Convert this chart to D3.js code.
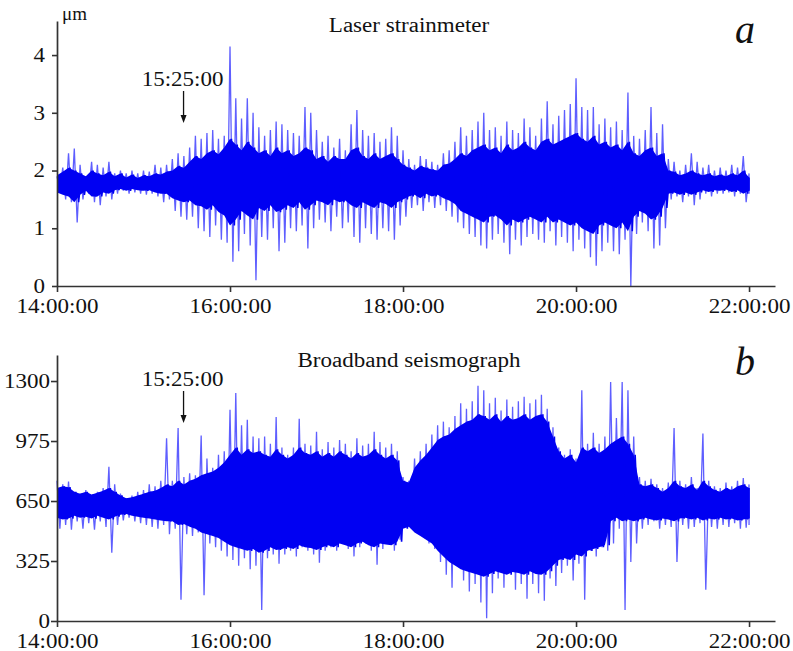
<!DOCTYPE html>
<html>
<head>
<meta charset="utf-8">
<script src="https://cdn.jsdelivr.net/npm/d3@7"></script>
<style>
  body { margin: 0; background: #fff; }
  svg text { font-family: "Liberation Serif", "Times New Roman", serif; fill: #111; }
</style>
</head>
<body>
<div id="chart"></div>
<script>
// time axis (shared by both panels)
var timeTickLabels = ["14:00:00", "16:00:00", "18:00:00", "20:00:00", "22:00:00"];
var eventLabel = "15:25:00";
var sampleStep = 4; // minutes between read-off samples, starting 14:00

// panel a: laser strainmeter, µm
// extreme upper / lower excursion in each 4 min window
var strainHigh = [
  1.90, 2.05, 2.30, 2.38, 2.10, 1.90, 2.15, 2.10, 2.05, 2.15,
  1.95, 2.00, 1.95, 2.00, 1.95, 2.00, 1.98, 2.10, 2.05, 2.10,
  2.20, 2.30, 2.25, 2.40, 2.60, 2.55, 2.65, 2.70, 2.55, 2.60,
  4.15, 3.25, 2.90, 3.25, 3.00, 2.75, 2.60, 2.70, 2.85, 2.80,
  2.70, 2.65, 2.60, 3.10, 3.00, 2.70, 2.50, 2.60, 2.40, 2.55,
  2.35, 2.80, 3.05, 2.70, 2.60, 2.65, 2.50, 2.55, 2.75, 2.60,
  2.35, 2.20, 2.10, 2.25, 2.20, 2.15, 2.10, 2.30, 2.35, 2.50,
  2.75, 2.60, 2.70, 2.85, 3.00, 2.70, 2.75, 2.60, 2.85, 2.70,
  2.65, 2.90, 2.75, 2.60, 2.90, 3.20, 2.80, 2.95, 3.05, 3.15,
  3.60, 3.10, 3.05, 3.10, 2.80, 2.90, 2.75, 2.85, 2.70, 3.35,
  2.60, 2.55, 2.70, 3.10, 2.65, 2.80, 2.20, 2.15, 2.00, 2.10,
  2.30, 2.15, 2.05, 2.10, 2.00, 2.05, 2.00, 2.10, 2.05, 2.25,
  1.95
];
var strainLow = [
  1.65, 1.50, 1.45, 1.10, 1.50, 1.60, 1.45, 1.40, 1.55, 1.50,
  1.60, 1.65, 1.60, 1.62, 1.60, 1.58, 1.60, 1.55, 1.45, 1.50,
  1.30, 1.20, 1.15, 1.20, 1.00, 0.95, 0.85, 1.05, 0.80, 0.75,
  0.42, 0.60, 0.90, 0.70, 0.10, 0.85, 0.80, 1.00, 0.60, 0.75,
  1.00, 0.95, 1.05, 0.65, 1.00, 1.15, 1.10, 0.95, 1.20, 1.00,
  1.10, 0.85, 0.75, 1.00, 0.90, 0.80, 1.00, 0.95, 0.80, 1.05,
  1.20, 1.35, 1.40, 1.30, 1.45, 1.35, 1.40, 1.30, 1.20, 1.10,
  1.00, 0.90, 0.85, 0.70, 0.65, 0.80, 0.90, 0.75, 0.55, 0.80,
  0.70, 0.85, 0.90, 0.80, 0.75, 0.95, 0.70, 0.85, 0.75, 0.60,
  0.80, 0.65, 0.50, 0.35, 0.60, 0.75, 0.60, 0.55, 0.80, 0.00,
  0.90, 1.10, 0.95, 0.65, 0.70, 1.00, 1.50, 1.55, 1.45, 1.55,
  1.40, 1.50, 1.60, 1.55, 1.60, 1.60, 1.62, 1.55, 1.60, 1.45,
  1.60
];
// edges of the dense (solid) part of the trace, same windows
var strainInnerHigh = [
  1.92, 1.98, 2.05, 2.00, 1.95, 1.90, 2.00, 1.95, 1.92, 1.98,
  1.90, 1.95, 1.88, 1.93, 1.87, 1.92, 1.90, 1.95, 1.93, 1.98,
  2.00, 2.08, 2.05, 2.15, 2.25, 2.20, 2.30, 2.35, 2.28, 2.40,
  2.55, 2.45, 2.35, 2.50, 2.40, 2.30, 2.35, 2.25, 2.40, 2.30,
  2.35, 2.25, 2.30, 2.40, 2.35, 2.20, 2.25, 2.15, 2.25, 2.20,
  2.20, 2.35, 2.40, 2.25, 2.20, 2.30, 2.20, 2.25, 2.30, 2.20,
  2.10, 2.05, 2.00, 2.08, 2.05, 2.02, 2.00, 2.10, 2.12, 2.20,
  2.30, 2.25, 2.35, 2.40, 2.45, 2.35, 2.40, 2.30, 2.45, 2.35,
  2.40, 2.50, 2.40, 2.35, 2.50, 2.55, 2.45, 2.50, 2.55, 2.60,
  2.65, 2.55, 2.50, 2.60, 2.45, 2.50, 2.40, 2.45, 2.35, 2.50,
  2.30, 2.25, 2.35, 2.40, 2.25, 2.30, 2.00, 1.98, 1.92, 1.95,
  2.00, 1.95, 1.92, 1.95, 1.90, 1.93, 1.90, 1.95, 1.92, 2.00,
  1.88
];
var strainInnerLow = [
  1.62, 1.58, 1.55, 1.45, 1.58, 1.65, 1.55, 1.55, 1.62, 1.60,
  1.66, 1.68, 1.65, 1.68, 1.66, 1.65, 1.66, 1.62, 1.60, 1.60,
  1.52, 1.48, 1.45, 1.48, 1.40, 1.38, 1.32, 1.40, 1.28, 1.22,
  1.05, 1.15, 1.30, 1.22, 1.15, 1.35, 1.30, 1.40, 1.28, 1.32,
  1.40, 1.35, 1.45, 1.32, 1.40, 1.48, 1.45, 1.40, 1.50, 1.45,
  1.48, 1.40, 1.35, 1.45, 1.40, 1.35, 1.45, 1.42, 1.35, 1.45,
  1.50, 1.55, 1.58, 1.52, 1.60, 1.55, 1.58, 1.52, 1.48, 1.42,
  1.30, 1.25, 1.20, 1.15, 1.10, 1.20, 1.22, 1.15, 1.05, 1.15,
  1.10, 1.15, 1.20, 1.15, 1.10, 1.20, 1.10, 1.15, 1.10, 1.05,
  1.10, 1.00, 0.95, 0.90, 1.05, 1.10, 1.05, 1.00, 1.10, 0.95,
  1.20, 1.30, 1.25, 1.15, 1.20, 1.35, 1.60, 1.62, 1.58, 1.62,
  1.58, 1.62, 1.66, 1.63, 1.66, 1.65, 1.67, 1.63, 1.66, 1.60,
  1.65
];
var strainTicks = [0, 1, 2, 3, 4];

// panel b: broadband seismograph, counts
var seismoHigh = [
  760, 740, 755, 700, 690, 710, 680, 700, 720, 835,
  740, 690, 665, 680, 700, 710, 740, 730, 760, 990,
  760, 1045, 780, 800, 790, 1005, 880, 830, 900, 920,
  1145, 1235, 1060, 1090, 1000, 990, 1000, 960, 1105, 940,
  900, 940, 1095, 960, 950, 1025, 930, 970, 940, 980,
  960, 920, 990, 950, 960, 1025, 970, 940, 960, 920,
  780, 760, 880, 920, 960, 1010, 1060, 1080, 1050, 1110,
  1180, 1150, 1190, 1275, 1250, 1180, 1210, 1140, 1200, 1160,
  1190, 1215, 1180, 1200, 1225, 1150, 1050, 940, 900, 930,
  880, 1250, 960, 1020, 960, 1000, 1295, 1100, 1295, 1250,
  1000, 780, 760, 770, 740, 720, 750, 1045, 760, 740,
  780, 720, 1015, 760, 730, 720, 750, 730, 760, 775,
  740
];
var seismoLow = [
  500, 520, 495, 540, 500, 530, 495, 540, 510, 370,
  520, 545, 560, 540, 530, 520, 510, 500, 520, 470,
  500, 115, 470, 460, 480, 140, 420, 400, 380, 350,
  330, 300, 340, 280, 300, 60, 340, 360, 310, 360,
  380, 350, 400, 380, 360, 315, 380, 400, 380, 420,
  390, 350, 400, 420, 380, 305, 390, 420, 380, 440,
  520, 530, 500, 460, 420, 390, 320, 250, 180, 300,
  220, 160, 200, 100, 15, 150, 230, 180, 270, 170,
  200, 120, 200, 150, 110, 230, 190, 260, 300, 220,
  310, 115, 380, 350, 400, 380, 420, 500, 60, 320,
  420, 500, 520, 540, 500, 520, 510, 320, 520, 500,
  510, 530, 170, 510, 500, 520, 510, 530, 500, 505,
  520
];
var seismoInnerHigh = [
  720, 730, 725, 700, 690, 700, 685, 695, 705, 720,
  700, 680, 665, 670, 680, 690, 700, 705, 720, 740,
  730, 760, 740, 760, 770, 790, 800, 810, 830, 860,
  900, 940, 900, 930, 910, 920, 900, 890, 930, 900,
  880, 900, 940, 910, 900, 920, 890, 910, 890, 920,
  900, 880, 910, 890, 900, 930, 900, 880, 900, 870,
  760, 750, 830, 870, 900, 940, 980, 1000, 1010, 1040,
  1060, 1080, 1090, 1120, 1110, 1090, 1120, 1080, 1110, 1090,
  1100, 1120, 1090, 1110, 1120, 1080, 1000, 920, 880, 900,
  860, 940, 920, 940, 910, 930, 960, 980, 1000, 960,
  900, 740, 730, 740, 720, 700, 720, 760, 730, 720,
  740, 710, 760, 730, 710, 700, 720, 710, 730, 740,
  720
];
var seismoInnerLow = [
  560, 550, 555, 570, 560, 565, 555, 570, 560, 550,
  565, 575, 580, 570, 565, 560, 555, 550, 545, 540,
  540, 520, 525, 510, 500, 480, 470, 460, 450, 430,
  410, 400, 390, 380, 390, 370, 380, 400, 385, 390,
  400, 390, 410, 400, 395, 385, 400, 410, 400, 420,
  410, 400, 420, 430, 410, 400, 420, 415, 410, 430,
  500, 510, 480, 460, 440, 420, 380, 350, 320, 300,
  280, 270, 260, 250, 240, 255, 270, 260, 250, 265,
  260, 250, 270, 255, 250, 270, 300, 330, 340, 330,
  360, 350, 380, 390, 400, 410, 540, 560, 540, 550,
  540, 550, 560, 550, 545, 555, 550, 540, 555, 560,
  550, 560, 545, 555, 550, 560, 550, 555, 545, 550,
  555
];
var seismoTicks = [0, 325, 650, 975, 1300];

var width = 793, height = 651;
var stretch = 1.15; // the source figure's lettering is a bit wide

var svg = d3.select("#chart").append("svg")
  .attr("width", width)
  .attr("height", height);

// "HH:MM:SS" -> minutes after 14:00
function minutesOf(s) {
  var p = s.split(":");
  return (+p[0] - 14) * 60 + (+p[1]) + (+p[2]) / 60;
}

function widen(sel) {
  sel.attr("textLength", function() { return this.getComputedTextLength() * stretch; })
    .attr("lengthAdjust", "spacingAndGlyphs");
}

var panels = [
  { title: "Laser strainmeter", letter: "a", high: strainHigh, low: strainLow,
    innerHigh: strainInnerHigh, innerLow: strainInnerLow,
    ticks: strainTicks, yMax: 4.59, top: 21, base: 286, tickPad: 7, tickLen: 5,
    unit: "\u03bcm", titleY: 32, letterY: 43, eventY: 86 },
  { title: "Broadband seismograph", letter: "b", high: seismoHigh, low: seismoLow,
    innerHigh: seismoInnerHigh, innerLow: seismoInnerLow,
    ticks: seismoTicks, yMax: 1441, top: 355, base: 621, tickPad: 1, tickLen: 6,
    unit: null, titleY: 367, letterY: 375, eventY: 386 }
];

panels.forEach(function(p) {
  var g = svg.append("g");

  var x = d3.scaleLinear().domain([0, 498]).range([57, 775]);
  var y = d3.scaleLinear().domain([0, p.yMax]).range([p.base, p.top]);

  // excursions: swing from each upper value to the lower one
  var trace = [];
  p.high.forEach(function(v, i) {
    var t = i * sampleStep;
    trace.push({ t: t, v: v });
    trace.push({ t: Math.min(t + sampleStep / 2, 480), v: p.low[i] });
  });
  g.append("path")
    .datum(trace)
    .attr("fill", "none")
    .attr("stroke", "#1a1aff")
    .attr("stroke-opacity", 0.7)
    .attr("stroke-width", 1.3)
    .attr("d", d3.line()
      .x(function(d) { return x(d.t); })
      .y(function(d) { return y(d.v); }));

  // dense part of the trace
  var inner = p.innerHigh.map(function(v, i) { return { t: i * sampleStep, hi: v, lo: p.innerLow[i] }; });
  g.append("path")
    .datum(inner)
    .attr("fill", "#0000f2")
    .attr("d", d3.area()
      .x(function(d) { return x(d.t); })
      .y0(function(d) { return y(d.lo); })
      .y1(function(d) { return y(d.hi); }));

  // a tighter zigzag inside the dense part roughens its edge
  var innerTrace = [];
  inner.forEach(function(d) {
    innerTrace.push({ t: Math.min(d.t + 1, 480), v: d.hi });
    innerTrace.push({ t: Math.min(d.t + 3, 480), v: d.lo });
  });
  g.append("path")
    .datum(innerTrace)
    .attr("fill", "none")
    .attr("stroke", "#0000f2")
    .attr("stroke-width", 1.6)
    .attr("d", d3.line()
      .x(function(d) { return x(d.t); })
      .y(function(d) { return y(d.v); }));

  // axes
  var xAxis = g.append("g")
    .attr("transform", "translate(0," + p.base + ")")
    .call(d3.axisBottom(x)
      .tickValues(timeTickLabels.map(minutesOf))
      .tickFormat(function(d, i) { return timeTickLabels[i]; })
      .tickSize(6).tickPadding(7).tickSizeOuter(0));

  var yAxis = g.append("g")
    .attr("transform", "translate(57,0)")
    .call(d3.axisLeft(y)
      .tickValues(p.ticks)
      .tickFormat(d3.format("d"))
      .tickSize(p.tickLen).tickPadding(p.tickPad).tickSizeOuter(0));

  [xAxis, yAxis].forEach(function(a) {
    a.select(".domain").attr("stroke", "#333").attr("stroke-width", 1.7);
    a.selectAll(".tick line").attr("stroke", "#333").attr("stroke-width", 1.6);
    a.selectAll(".tick text")
      .style("font-family", "Liberation Serif, serif")
      .style("font-size", "20px")
      .attr("fill", "#111")
      .call(widen);
  });

  if (p.unit) {
    g.append("text")
      .attr("x", 62).attr("y", p.top - 1)
      .style("font-size", "19px")
      .text(p.unit);
  }

  // title and panel letter
  g.append("text")
    .attr("x", 409).attr("y", p.titleY)
    .attr("text-anchor", "middle")
    .style("font-size", "20px")
    .text(p.title)
    .call(widen);

  g.append("text")
    .attr("x", 735).attr("y", p.letterY)
    .style("font-size", "40px")
    .style("font-style", "italic")
    .text(p.letter);

  // 15:25:00 marker with arrow
  var ex = x(minutesOf(eventLabel)) + 4;
  g.append("text")
    .attr("x", ex - 1).attr("y", p.eventY)
    .attr("text-anchor", "middle")
    .style("font-size", "20px")
    .text(eventLabel)
    .call(widen);

  var a0 = p.eventY + 5, a1 = p.eventY + 37;
  g.append("line")
    .attr("x1", ex).attr("x2", ex)
    .attr("y1", a0).attr("y2", a1 - 6)
    .attr("stroke", "#111").attr("stroke-width", 1.3);
  g.append("path")
    .attr("d", "M" + (ex - 3) + "," + (a1 - 8) + "L" + (ex + 3) + "," + (a1 - 8) + "L" + ex + "," + a1 + "Z")
    .attr("fill", "#111");
});
</script>
</body>
</html>
